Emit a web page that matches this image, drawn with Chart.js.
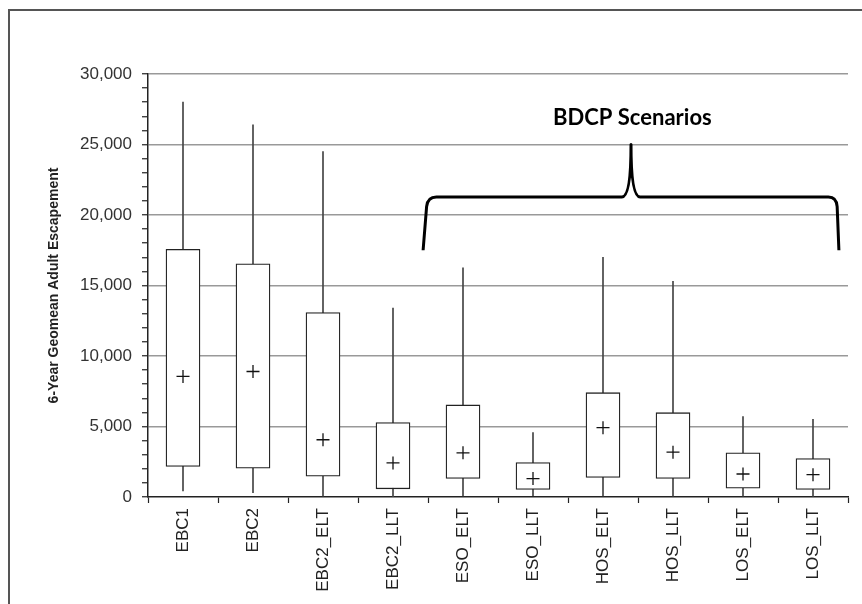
<!DOCTYPE html>
<html>
<head>
<meta charset="utf-8">
<script src="https://cdn.jsdelivr.net/npm/chart.js@4"></script>
<style>
    html, body { margin: 0; padding: 0; background: #fff; }
    #wrap { position: relative; width: 862px; height: 604px; }
    #frame {
        position: absolute; left: 8px; top: 9px; right: 0; bottom: 0;
        border-top: 2px solid #555; border-left: 2px solid #555;
        pointer-events: none;
    }
</style>
</head>
<body>
<div id="wrap">
    <canvas id="boxChart"></canvas>
    <div id="frame"></div>
</div>
<script>
// Box plot data
const categories = ['EBC1', 'EBC2', 'EBC2_ELT', 'EBC2_LLT', 'ESO_ELT', 'ESO_LLT', 'HOS_ELT', 'HOS_LLT', 'LOS_ELT', 'LOS_LLT'];
const whiskerLow  = [430, 300, 60, 30, 80, 90, 80, 60, 60, 50];
const boxLow      = [2160, 2050, 1470, 580, 1310, 540, 1390, 1310, 630, 540];
const boxHigh     = [17570, 16540, 13080, 5280, 6530, 2450, 7400, 5980, 3130, 2720];
const whiskerHigh = [28000, 26400, 24500, 13400, 16250, 4570, 17000, 15300, 5700, 5500];
const means       = [8550, 8900, 4060, 2420, 3130, 1310, 4920, 3180, 1630, 1580];

const yTicksMajor = 5000;
const annotationText = 'BDCP Scenarios';

const FONT = "'Liberation Sans', Arial, sans-serif";

/**
 * Curly bracket over the BDCP scenario boxes, placed in data units.
 */
const bracePlugin = {
    id: 'brace',
    afterDraw(chart) {
        const x = chart.scales.x, y = chart.scales.y;
        const X = v => x.getPixelForValue(v);
        const Y = v => y.getPixelForValue(v);
        const ctx = chart.ctx;
        ctx.save();
        ctx.strokeStyle = '#000';
        ctx.lineWidth = 3;
        ctx.lineJoin = 'round';
        ctx.beginPath();
        ctx.moveTo(X(3.43), Y(17500));
        ctx.lineTo(X(3.48), Y(20600));
        ctx.quadraticCurveTo(X(3.495), Y(21280), X(3.62), Y(21280));
        ctx.lineTo(X(6.27), Y(21280));
        ctx.bezierCurveTo(X(6.37), Y(21280), X(6.40), Y(22900), X(6.40), Y(25000));
        ctx.bezierCurveTo(X(6.40), Y(22900), X(6.43), Y(21280), X(6.53), Y(21280));
        ctx.lineTo(X(9.22), Y(21280));
        ctx.quadraticCurveTo(X(9.335), Y(21280), X(9.345), Y(20600));
        ctx.lineTo(X(9.37), Y(17500));
        ctx.stroke();

        ctx.fillStyle = '#000';
        ctx.font = "bold 22px Lato, 'Open Sans', sans-serif";
        ctx.textAlign = 'center';
        ctx.textBaseline = 'middle';
        ctx.fillText(annotationText, X(6.42), Y(26900));
        ctx.restore();
    }
};

const ctx = document.getElementById('boxChart').getContext('2d');

new Chart(ctx, {
    type: 'bar',
    data: {
        labels: categories,
        datasets: [
            {
                type: 'line',
                label: 'Mean',
                data: means,
                showLine: false,
                pointStyle: 'cross',
                pointRadius: 6.5,
                pointBorderWidth: 1.3,
                pointBorderColor: '#111',
                borderColor: '#111',
                order: 0
            },
            {
                label: 'Box',
                data: boxLow.map((lo, i) => [lo, boxHigh[i]]),
                backgroundColor: '#fff',
                borderColor: '#222',
                borderWidth: 1.3,
                borderSkipped: false,
                barThickness: 34,
                grouped: false,
                order: 1
            },
            {
                label: 'Whisker',
                data: whiskerLow.map((lo, i) => [lo, whiskerHigh[i]]),
                backgroundColor: '#444',
                borderWidth: 0,
                barThickness: 1,
                grouped: false,
                order: 2
            }
        ]
    },
    options: {
        responsive: true,
        maintainAspectRatio: false,
        animation: false,
        layout: { padding: { top: 74, right: 14, left: 0, bottom: 0 } },
        plugins: {
            legend: { display: false },
            tooltip: { enabled: false }
        },
        scales: {
            x: {
                offset: true,
                afterFit: scale => { scale.height = 107; },
                grid: {
                    offset: true,
                    drawOnChartArea: false,
                    tickLength: 6,
                    tickColor: '#222',
                    tickWidth: 1.2
                },
                border: { color: '#222', width: 1.5 },
                ticks: {
                    autoSkip: false,
                    minRotation: 90,
                    maxRotation: 90,
                    padding: 5,
                    color: '#222',
                    font: { family: FONT, size: 17 }
                }
            },
            y: {
                min: 0,
                max: 30000,
                afterFit: scale => { scale.width = 148; },
                grid: {
                    color: c => (c.tick && c.tick.value % yTicksMajor === 0 && c.tick.value !== 0) ? '#999' : 'rgba(0,0,0,0)',
                    lineWidth: 1.5,
                    tickLength: 6,
                    tickColor: '#222',
                    tickWidth: 1.2
                },
                border: { color: '#222', width: 1.5 },
                ticks: {
                    stepSize: 1000,
                    autoSkip: false,
                    padding: 10,
                    color: '#333',
                    font: { family: FONT, size: 17 },
                    callback: v => v % yTicksMajor === 0 ? v.toLocaleString('en-US') : ''
                },
                title: {
                    display: true,
                    text: '6-Year Geomean Adult Escapement',
                    color: '#222',
                    font: { family: FONT, size: 14, weight: 'bold' },
                    padding: { top: 46, bottom: 0 }
                }
            }
        }
    },
    plugins: [bracePlugin]
});
</script>
</body>
</html>
